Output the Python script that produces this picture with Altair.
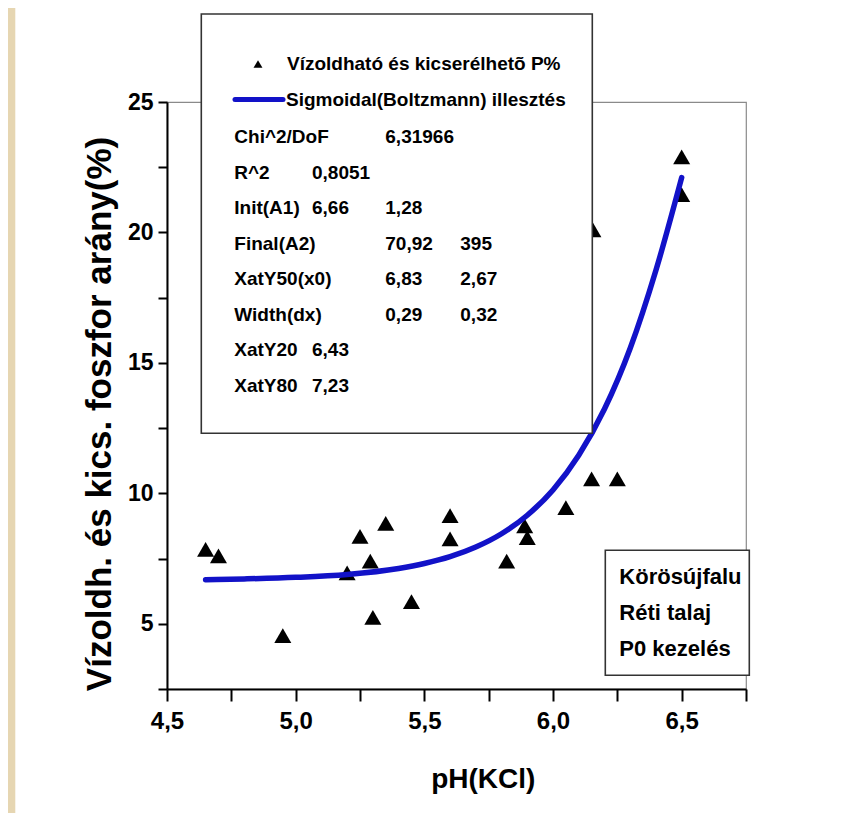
import altair as alt
import pandas as pd

# ---- data ----
ph = [4.65, 4.70, 4.95, 5.20, 5.25, 5.29, 5.30, 5.35, 5.45, 5.60, 5.60, 5.82,
      5.89, 5.90, 6.05, 6.15, 6.25, 6.155, 6.50, 6.50]
p_ratio = [7.85, 7.6, 4.55, 6.95, 8.35, 7.4, 5.25, 8.85, 5.85, 9.15, 8.25, 7.4,
           8.75, 8.3, 9.45, 10.55, 10.55, 20.1, 22.9, 21.45]

fit_ph = [4.65, 4.8, 5.0, 5.2, 5.4, 5.5, 5.6, 5.7, 5.8, 5.9, 6.0, 6.1, 6.2, 6.3, 6.4, 6.5]
fit_val = [6.69, 6.72, 6.78, 6.89, 7.12, 7.31, 7.57, 7.94, 8.45, 9.16, 10.13, 11.46,
           13.23, 15.56, 18.55, 22.1]

legend_series = ["Vízoldható és kicserélhetõ P%", "Sigmoidal(Boltzmann) illesztés"]
stat_labels = ["Chi^2/DoF", "R^2", "Init(A1)", "Final(A2)", "XatY50(x0)", "Width(dx)", "XatY20", "XatY80"]
stat_inline = ["", "0,8051", "6,66", "", "", "", "6,43", "7,23"]
stat_col2 = ["6,31966", "", "1,28", "70,92", "6,83", "0,29", "", ""]
stat_col3 = ["", "", "", "395", "2,67", "0,32", "", ""]
site_lines = ["Körösújfalu", "Réti talaj", "P0 kezelés"]

x_title = "pH(KCl)"
y_title = "Vízoldh. és kics. foszfor arány(%)"

x_ticks = [4.5, 4.75, 5.0, 5.25, 5.5, 5.75, 6.0, 6.25, 6.5, 6.75]
y_ticks = [2.5, 5, 7.5, 10, 12.5, 15, 17.5, 20, 22.5, 25]

# ---- style ----
W, H = 579, 587
SANS = "Liberation Sans, Arial, sans-serif"
BLUE = "#1212c8"

pts = pd.DataFrame({"ph": ph, "p": p_ratio})
fit = pd.DataFrame({"ph": fit_ph, "p": fit_val})

xscale = alt.Scale(domain=[4.5, 6.75], nice=False, zero=False)
yscale = alt.Scale(domain=[2.5, 25], nice=False, zero=False)

xaxis = alt.Axis(
    values=x_ticks, title=None, grid=False,
    labelExpr="abs(round(datum.value*2) - datum.value*2) < 0.001 ? replace(format(datum.value, '.1f'), '.', ',') : ''",
    labelFont=SANS, labelFontSize=24, labelFontWeight="bold", labelColor="black",
    labelPadding=8, labelFlush=False, labelOverlap=False,
    tickSize=12, tickWidth=2, tickColor="black",
    domainColor="black", domainWidth=2,
)
yaxis = alt.Axis(
    values=y_ticks, title=None, grid=False,
    labelExpr="datum.value % 5 == 0 ? format(datum.value, 'd') : ''",
    labelFont=SANS, labelFontSize=23, labelFontWeight="bold", labelColor="black",
    labelPadding=5, labelFlush=False, labelOverlap=False,
    tickSize=9, tickWidth=2, tickColor="black",
    domainColor="black", domainWidth=2,
)

points = alt.Chart(pts).mark_point(
    shape="triangle-up", filled=True, color="black", opacity=1, size=290
).encode(
    x=alt.X("ph:Q", scale=xscale, axis=xaxis),
    y=alt.Y("p:Q", scale=yscale, axis=yaxis),
)

curve = alt.Chart(fit).mark_line(
    color=BLUE, strokeWidth=5.5, interpolate="monotone", strokeCap="round"
).encode(x=alt.X("ph:Q", scale=xscale), y=alt.Y("p:Q", scale=yscale))


def one(text):
    return alt.Chart(pd.DataFrame({"t": [text]}))


def txt(text, px, py, size=19, font=SANS, **kw):
    return one(text).mark_text(
        font=font, fontSize=size, fontWeight="bold", color="black",
        align=kw.pop("align", "left"), baseline="middle", **kw
    ).encode(x=alt.value(px), y=alt.value(py), text="t:N")


def rect(x1, x2, y1, y2, fill, stroke=None, sw=0):
    kw = dict(fill=fill, strokeWidth=sw)
    if stroke:
        kw["stroke"] = stroke
    return one("r").mark_rect(**kw).encode(
        x=alt.value(x1), x2=alt.value(x2), y=alt.value(y1), y2=alt.value(y2)
    )


layers = [points, curve]

# parchment strip on the left edge
layers.append(rect(-159, -151.7, -94, H + 124, "#e6d6b2"))

# legend / statistics box
layers.append(rect(34.3, 425.3, -88.0, 331.3, "white", "#333333", 1.6))
layers.append(
    one("s").mark_point(shape="triangle-up", filled=True, color="black", opacity=1, size=80)
    .encode(x=alt.value(91), y=alt.value(-38))
)
layers.append(txt(legend_series[0], 120, -38))
layers.append(
    one("l").mark_rule(color=BLUE, strokeWidth=5, strokeCap="round")
    .encode(x=alt.value(68), x2=alt.value(116), y=alt.value(-2.5))
)
layers.append(txt(legend_series[1], 119, -2.5))

row_y0, row_step = 35.3, 35.5
for i in range(len(stat_labels)):
    yy = row_y0 + i * row_step
    layers.append(txt(stat_labels[i], 67.3, yy))
    if stat_inline[i]:
        layers.append(txt(stat_inline[i], 145, yy))
    if stat_col2[i]:
        layers.append(txt(stat_col2[i], 218.3, yy))
    if stat_col3[i]:
        layers.append(txt(stat_col3[i], 293.3, yy))

# site box
layers.append(rect(438.3, 582.3, 448.3, 573.3, "white", "#333333", 1.6))
for i, s in enumerate(site_lines):
    layers.append(txt(s, 452.3, 475.3 + i * 36, size=22))

# axis titles as text
layers.append(txt(x_title, 316.3, 678.3, size=28, align="center"))
layers.append(txt(y_title, -66.7, 312, size=35, align="center", angle=270))

chart = alt.layer(*layers).properties(
    width=W, height=H,
    autosize=alt.AutoSizeParams(type="none"),
    padding={"left": 159, "top": 94, "right": 100, "bottom": 124},
    background="white",
).configure_view(stroke="#8a8a8a", strokeWidth=1.2)

chart.save("out.html", embed_options={"renderer": "svg", "actions": False})
